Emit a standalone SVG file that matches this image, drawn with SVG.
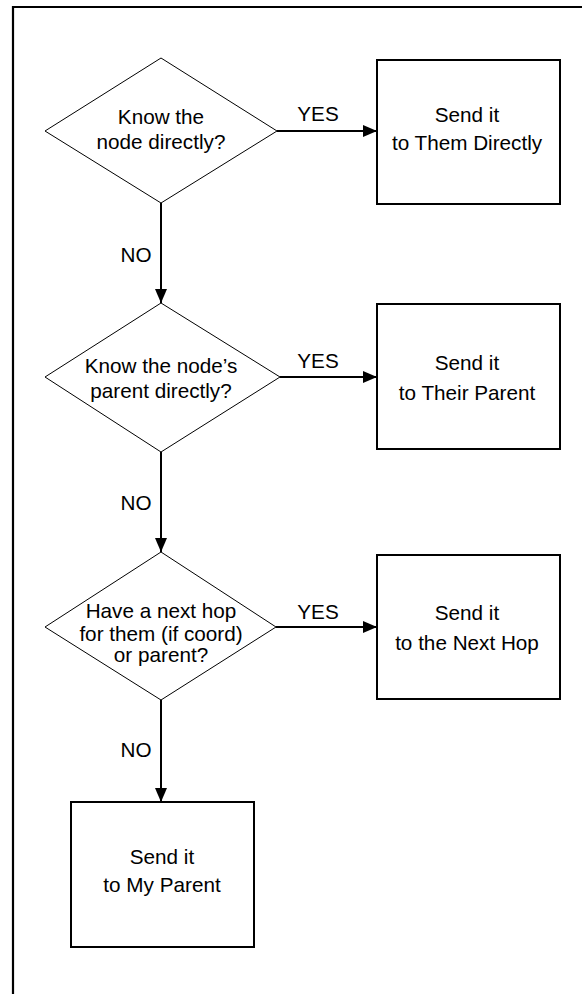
<svg xmlns="http://www.w3.org/2000/svg" width="583" height="994" viewBox="0 0 583 994">
<style>
text{font-family:"Liberation Sans",Arial,sans-serif;font-size:20.7px;fill:#000;text-anchor:middle}
.dia{fill:#fff;stroke:#000;stroke-width:1}
.box{fill:#fff;stroke:#000;stroke-width:2}
.con{stroke:#000;stroke-width:2;fill:none;marker-end:url(#ah)}
</style>
<defs>
<marker id="ah" markerWidth="14" markerHeight="12" refX="14" refY="6" orient="auto" markerUnits="userSpaceOnUse">
<path d="M0,0 L14,6 L0,12 Z" fill="#000"/>
</marker>
</defs>
<rect width="583" height="994" fill="#fff"/>
<g id="frame"><path d="M13,994 V7 H582" fill="none" stroke="#000" stroke-width="2.2"/></g>
<g id="connectors">
<line class="con" x1="161" y1="203" x2="161" y2="303"/>
<line class="con" x1="161" y1="452" x2="161" y2="552"/>
<line class="con" x1="161" y1="700" x2="161" y2="802"/>
<line class="con" x1="277" y1="131" x2="377" y2="131"/>
<line class="con" x1="280" y1="377" x2="377" y2="377"/>
<line class="con" x1="276" y1="627" x2="377" y2="627"/>
<text x="136" y="262">NO</text>
<text x="136" y="510">NO</text>
<text x="136" y="757">NO</text>
<text x="318" y="121">YES</text>
<text x="318" y="368">YES</text>
<text x="318" y="619">YES</text>
</g>
<g id="d1">
<polygon class="dia" points="161,58 277,131 161,203 45,131"/>
<text x="161" y="124">Know the</text>
<text x="161" y="149">node directly?</text>
</g>
<g id="d2">
<polygon class="dia" points="161,303 280,377 161,452 45,377"/>
<text x="161" y="373">Know the node’s</text>
<text x="161" y="398">parent directly?</text>
</g>
<g id="d3">
<polygon class="dia" points="161,552 276,627 161,700 45,627"/>
<text x="161" y="618">Have a next hop</text>
<text x="161" y="641">for them (if coord)</text>
<text x="161" y="662">or parent?</text>
</g>
<g id="b1">
<rect class="box" x="377" y="60" width="183" height="144"/>
<text x="467" y="122">Send it</text>
<text x="467" y="150">to Them Directly</text>
</g>
<g id="b2">
<rect class="box" x="377" y="304" width="183" height="145"/>
<text x="467" y="370">Send it</text>
<text x="467" y="400">to Their Parent</text>
</g>
<g id="b3">
<rect class="box" x="377" y="555" width="183" height="144"/>
<text x="467" y="620">Send it</text>
<text x="467" y="650">to the Next Hop</text>
</g>
<g id="b4">
<rect class="box" x="71" y="802" width="183" height="145"/>
<text x="162" y="864">Send it</text>
<text x="162" y="892">to My Parent</text>
</g>
</svg>
